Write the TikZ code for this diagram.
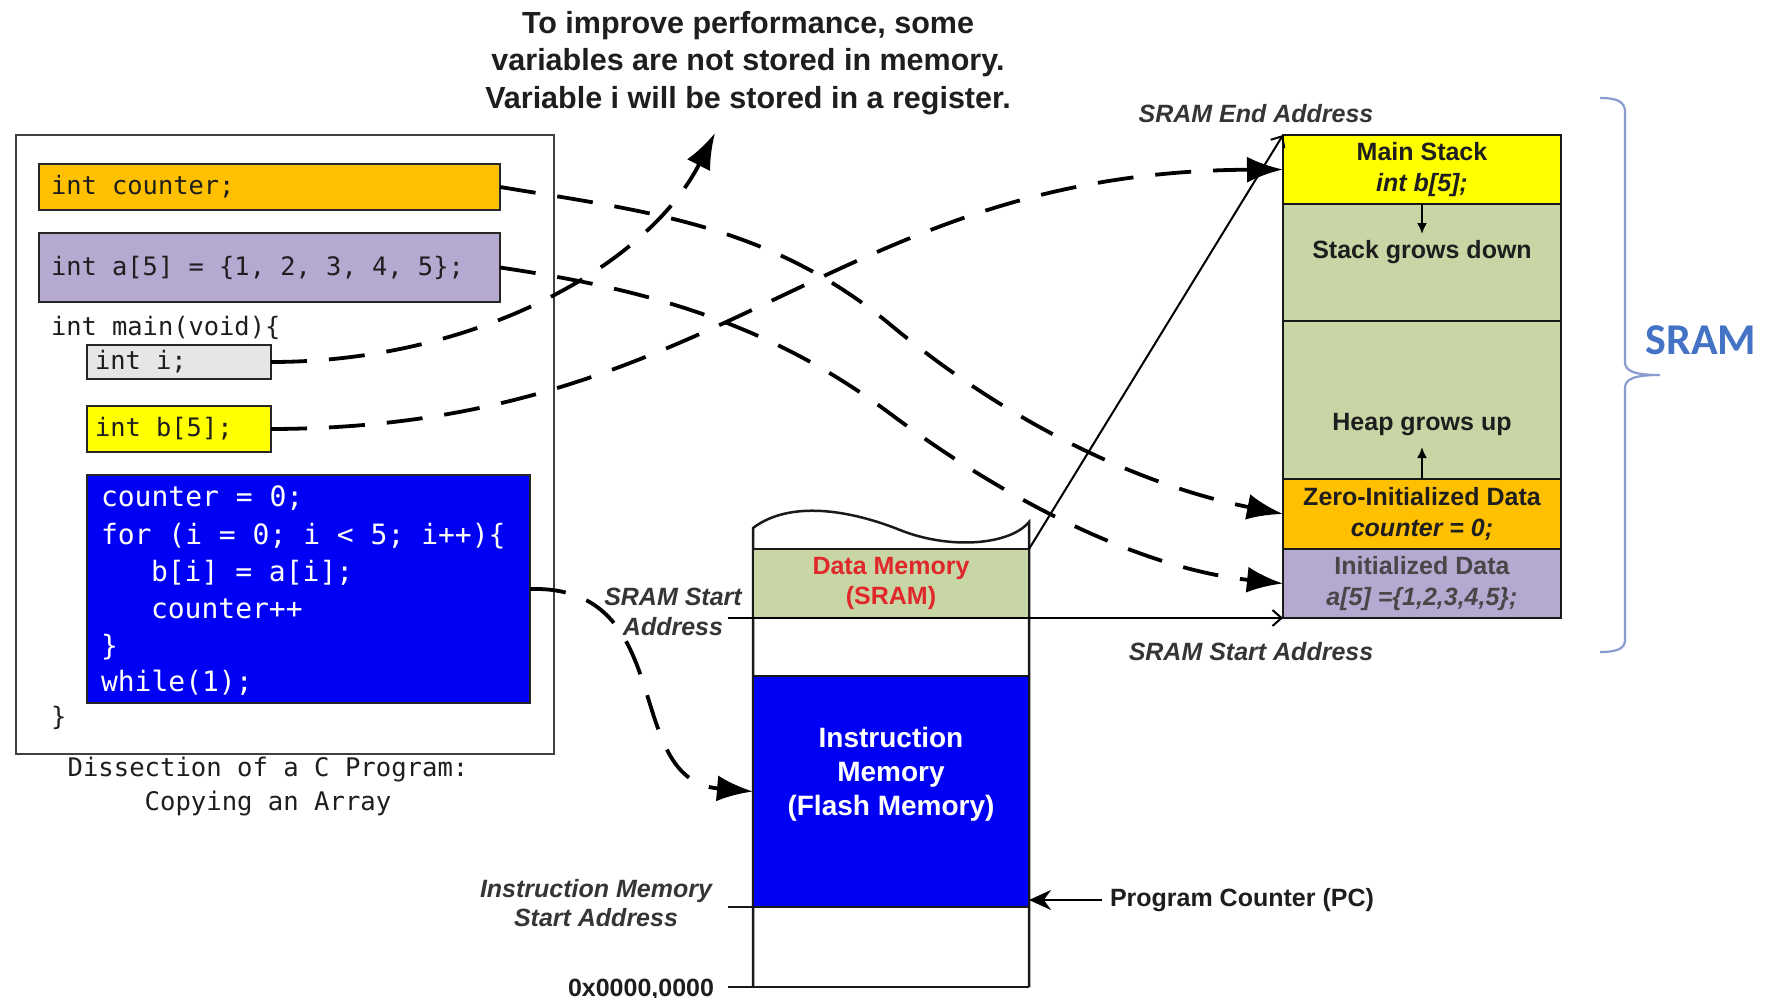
\documentclass[tikz,border=0pt]{standalone}
\usepackage{fontspec}
\setmainfont{Liberation Sans}
\newfontfamily\codefont{DejaVu Sans Mono}
\newfontfamily\calfont{Carlito}
\usetikzlibrary{arrows.meta}

\definecolor{cOrange}{HTML}{FFC000}
\definecolor{cLilac}{HTML}{B6A9D1}
\definecolor{cGrey}{HTML}{E6E6E6}
\definecolor{cYellow}{HTML}{FFFF00}
\definecolor{cBlue}{HTML}{0000F5}
\definecolor{cGreen}{HTML}{C8D5A5}
\definecolor{cRed}{HTML}{E0282B}
\definecolor{cBrace}{HTML}{8A9BD0}
\definecolor{cSram}{HTML}{4472C4}
\definecolor{cInk}{HTML}{1E1E1E}

\newcommand\fsz[2]{\fontsize{#1pt}{#2pt}\selectfont}

\begin{document}
\begin{tikzpicture}[x=1pt,y=-1pt,
  every node/.style={inner sep=0pt, outer sep=0pt},
  ctext/.style={font=\codefont\fsz{25.4}{37}, text=cInk},
  btext/.style={font=\codefont\fsz{28}{37}, text=white, anchor=base west},
  cbox/.style={draw=black!85, line width=2.5pt, anchor=north west,
    inner xsep=#1, font=\codefont\fsz{25.4}{37}, text=cInk},
  wall/.style={draw=black!90, line width=2.5pt},
  band/.style={draw=black!90, line width=2.5pt, anchor=north west, minimum width=276pt},
  cell/.style={draw=black!90, line width=2.5pt, anchor=north west, minimum width=278pt,
    align=center, font=\bfseries\fsz{25}{31}, text=cInk},
  lab/.style={font=\bfseries\itshape\fsz{25}{30}, text=cInk!90, align=center},
  flow/.style={line width=3.8pt, dash pattern=on 36pt off 22pt,
    -{Latex[length=36pt,width=26pt]}},
  thinarrow/.style={line width=2pt, -{Straight Barb[length=9pt,width=16pt]}},
]
\fill[white] (0,0) rectangle (1769,998);
\useasboundingbox (0,0) rectangle (1769,998);

% ---------- C program listing ----------
\node[draw=black!75, line width=2.5pt, anchor=north west,
      minimum width=538pt, minimum height=619pt] (prog) at (16,135) {};
\node[cbox=12pt, fill=cOrange, minimum height=46pt] (cnt) at (39,164)
  {\makebox[437pt][l]{int counter;}};
\node[cbox=12pt, fill=cLilac, minimum height=69pt] (a5) at (39,233)
  {\makebox[437pt][l]{int a[5] = \{1, 2, 3, 4, 5\};}};
\node[ctext, anchor=base west] (mainl) at (51,335) {int main(void)\{};
\node[cbox=8pt, fill=cGrey, minimum height=34pt] (iv) at (87,345)
  {\makebox[168pt][l]{int i;}};
\node[cbox=8pt, fill=cYellow, minimum height=46pt] (bv) at (87,406)
  {\makebox[168pt][l]{int b[5];}};
\node[draw=black!85, line width=2.5pt, fill=cBlue, anchor=north west,
      minimum width=443pt, minimum height=228pt] (blk) at (87,475) {};
\node[btext] (l1) at (101,506) {counter = 0;};
\node[btext] (l2) at (101,544) {for (i = 0; i < 5; i++)\{};
\node[btext] (l3) at (151,581) {b[i] = a[i];};
\node[btext] (l4) at (151,618) {counter++};
\node[btext] (l5) at (101,655) {\}};
\node[btext] (l6) at (101,691) {while(1);};
\node[ctext, anchor=base west] (endl) at (51,725) {\}};
\node[ctext, font=\codefont\fsz{25.6}{34}, align=center] (cap) at (268,787)
  {Dissection of a C Program:\\Copying an Array};

% ---------- note on register allocation ----------
\node[font=\bfseries\fsz{30.5}{37.5}, align=center, text=cInk] (note) at (748,63)
  {To improve performance, some\\variables are not stored in memory.\\Variable i will be stored in a register.};
\coordinate (noteTip) at (715,133);

% ---------- memory map column ----------
\draw[wall] (753,987) -- (753,528)
  .. controls (790,500) and (850,510) .. (900,530)
  .. controls (950,550) and (1010,545) .. (1029,522) -- (1029,987);
\node[band, fill=cGreen, minimum height=69pt, align=center,
      font=\bfseries\fsz{25}{30}, text=cRed] (dm) at (753,549) {Data Memory\\(SRAM)};
\node[band, fill=cBlue, minimum height=231pt] (im) at (753,676) {};
\node[font=\bfseries\fsz{28}{34}, text=white, align=center] (imt) at (891,774)
  {Instruction\\Memory\\(Flash Memory)};
\coordinate (sramL) at (728,618);
\coordinate (imL) at (728,907);
\coordinate (zeroL) at (728,987);
\draw[wall] (imL) -- (im.south west);
\draw[wall] (zeroL) -- (1029,987);

\node[lab] (startL) at (673,612) {SRAM Start\\Address};
\node[lab, font=\bfseries\itshape\fsz{25}{29}] (imlab) at (596,903) {Instruction Memory\\Start Address};
\node[font=\bfseries\fsz{25}{30}, text=cInk, anchor=base] (zero0) at (641,996) {0x0000,0000};
\node[font=\bfseries\fsz{25}{30}, text=cInk, anchor=west] (pc) at (1110,900) {Program Counter (PC)};
\draw[line width=2pt, -{Stealth[length=22pt,width=20pt]}] ([xshift=-8pt]pc.west) -- (pc.west -| im.east);

% ---------- SRAM detail ----------
\node[cell, fill=cYellow, minimum height=69pt] (stack) at (1283,135) {Main Stack\\\textit{int b[5];}};
\node[cell, fill=cGreen, minimum height=117pt] (sgrow) at (1283,204) {};
\node[cell, fill=cGreen, minimum height=158pt] (heap) at (1283,321) {};
\node[cell, fill=cOrange, minimum height=70pt] (zero) at (1283,479) {Zero-Initialized Data\\\textit{counter = 0;}};
\node[cell, fill=cLilac, minimum height=69pt, text=black!72] (init) at (1283,549) {Initialized Data\\\textit{a[5] =\{1,2,3,4,5\};}};
\node[font=\bfseries\fsz{25}{30}, text=cInk] (sgt) at (1422,252) {Stack grows down};
\node[font=\bfseries\fsz{25}{30}, text=cInk] (hgt) at (1422,425) {Heap grows up};
\draw[line width=2pt, -{Latex[length=11pt,width=10pt]}] (stack.south) -- ++(0,30);
\draw[line width=2pt, -{Latex[length=11pt,width=10pt]}] (zero.north) -- ++(0,-32);

\node[lab] (endlab) at (1256,114) {SRAM End Address};
\node[lab] (startlab) at (1251,652) {SRAM Start Address};
\draw[thinarrow] (dm.north east) -- (stack.north west);
\draw[thinarrow] (sramL) -- (init.south west);

% ---------- SRAM brace ----------
\draw[cBrace, line width=2.2pt]
  (1600,98) .. controls (1616,98) and (1625,101) .. (1625,112) -- (1625,362)
  .. controls (1625,371) and (1634,375) .. (1660,375)
  .. controls (1634,375) and (1625,379) .. (1625,388) -- (1625,640)
  .. controls (1625,649) and (1616,652) .. (1600,652);
\node[font=\calfont\bfseries\fsz{44}{50}, text=cSram] (sramlab) at (1701,340) {SRAM};

% ---------- where each declaration lives ----------
\draw[flow] (iv.east) .. controls (473,362) and (647,267) .. (noteTip);
\draw[flow] (bv.east) .. controls (723,428) and (833,172) .. (stack.west);
\draw[flow] (cnt.east) .. controls (652,212) and (772,226) .. (892,326)
  .. controls (1030,440) and (1163,490) .. (zero.west);
\draw[flow] (a5.east) .. controls (652,290) and (772,325) .. (892,415)
  .. controls (1022,512) and (1153,570) .. (init.west);
\draw[flow] (blk.east) .. controls (680,585) and (620,780) .. (im.west);
\end{tikzpicture}
\end{document}
